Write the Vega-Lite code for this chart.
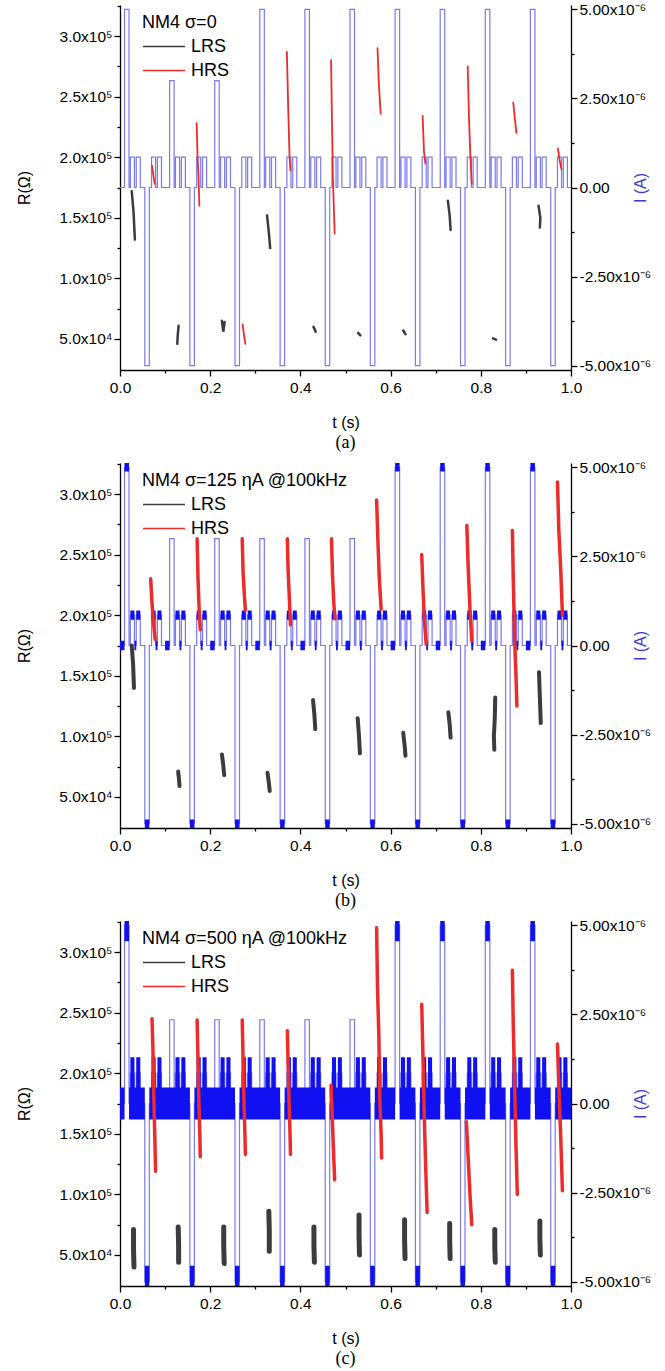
{
"$schema": "https://vega.github.io/schema/vega-lite/v6.json",
"background": "white",
"padding": {"left": 16, "top": 2, "right": 0, "bottom": 0},
"spacing": 8,
"datasets": {
"wave": [
{"t":0,"a":0,"b":0,"c":0,"bl":-1.3e-7,"bh":1.3e-7,"cl":-4.5e-7,"ch":4.5e-7},
{"t":0.01,"a":5e-6,"b":5e-6,"c":5e-6,"bl":4.88e-6,"bh":5.12e-6,"cl":4.55e-6,"ch":5.12e-6},
{"t":0.02,"a":0,"b":0,"c":0,"bl":0,"bh":0,"cl":-4.5e-7,"ch":4.5e-7},
{"t":0.023,"a":8.5e-7,"b":8.5e-7,"c":8.5e-7,"bl":7.2e-7,"bh":9.8e-7,"cl":-4.5e-7,"ch":1.3e-6},
{"t":0.032,"a":0,"b":0,"c":0,"bl":-1.3e-7,"bh":1.3e-7,"cl":-4.5e-7,"ch":4.5e-7},
{"t":0.036,"a":8.5e-7,"b":8.5e-7,"c":8.5e-7,"bl":7.2e-7,"bh":9.8e-7,"cl":-4.5e-7,"ch":1.3e-6},
{"t":0.045,"a":0,"b":0,"c":0,"bl":0,"bh":0,"cl":-4.5e-7,"ch":4.5e-7},
{"t":0.055,"a":-5e-6,"b":-5e-6,"c":-5e-6,"bl":-5.12e-6,"bh":-4.88e-6,"cl":-5.12e-6,"ch":-4.55e-6},
{"t":0.065,"a":0,"b":0,"c":0,"bl":0,"bh":0,"cl":-4.5e-7,"ch":4.5e-7},
{"t":0.07,"a":8.5e-7,"b":8.5e-7,"c":8.5e-7,"bl":7.2e-7,"bh":9.8e-7,"cl":-4.5e-7,"ch":1.3e-6},
{"t":0.079,"a":0,"b":0,"c":0,"bl":-1.3e-7,"bh":1.3e-7,"cl":-4.5e-7,"ch":4.5e-7},
{"t":0.083,"a":8.5e-7,"b":8.5e-7,"c":8.5e-7,"bl":7.2e-7,"bh":9.8e-7,"cl":-4.5e-7,"ch":1.3e-6},
{"t":0.092,"a":0,"b":0,"c":0,"bl":0,"bh":0,"cl":-4.5e-7,"ch":4.5e-7},

{"t":0.1,"a":0,"b":0,"c":0,"bl":-1.3e-7,"bh":1.3e-7,"cl":-4.5e-7,"ch":4.5e-7},
{"t":0.11,"a":3e-6,"b":3e-6,"c":2.35e-6,"bl":0,"bh":0,"cl":-4.5e-7,"ch":4.5e-7},
{"t":0.12,"a":0,"b":0,"c":0,"bl":0,"bh":0,"cl":-4.5e-7,"ch":4.5e-7},
{"t":0.123,"a":8.5e-7,"b":8.5e-7,"c":8.5e-7,"bl":7.2e-7,"bh":9.8e-7,"cl":-4.5e-7,"ch":1.3e-6},
{"t":0.132,"a":0,"b":0,"c":0,"bl":-1.3e-7,"bh":1.3e-7,"cl":-4.5e-7,"ch":4.5e-7},
{"t":0.136,"a":8.5e-7,"b":8.5e-7,"c":8.5e-7,"bl":7.2e-7,"bh":9.8e-7,"cl":-4.5e-7,"ch":1.3e-6},
{"t":0.145,"a":0,"b":0,"c":0,"bl":0,"bh":0,"cl":-4.5e-7,"ch":4.5e-7},
{"t":0.155,"a":-5e-6,"b":-5e-6,"c":-5e-6,"bl":-5.12e-6,"bh":-4.88e-6,"cl":-5.12e-6,"ch":-4.55e-6},
{"t":0.165,"a":0,"b":0,"c":0,"bl":0,"bh":0,"cl":-4.5e-7,"ch":4.5e-7},
{"t":0.17,"a":8.5e-7,"b":8.5e-7,"c":8.5e-7,"bl":7.2e-7,"bh":9.8e-7,"cl":-4.5e-7,"ch":1.3e-6},
{"t":0.179,"a":0,"b":0,"c":0,"bl":-1.3e-7,"bh":1.3e-7,"cl":-4.5e-7,"ch":4.5e-7},
{"t":0.183,"a":8.5e-7,"b":8.5e-7,"c":8.5e-7,"bl":7.2e-7,"bh":9.8e-7,"cl":-4.5e-7,"ch":1.3e-6},
{"t":0.192,"a":0,"b":0,"c":0,"bl":0,"bh":0,"cl":-4.5e-7,"ch":4.5e-7},

{"t":0.2,"a":0,"b":0,"c":0,"bl":-1.3e-7,"bh":1.3e-7,"cl":-4.5e-7,"ch":4.5e-7},
{"t":0.21,"a":3e-6,"b":3e-6,"c":2.35e-6,"bl":0,"bh":0,"cl":-4.5e-7,"ch":4.5e-7},
{"t":0.22,"a":0,"b":0,"c":0,"bl":0,"bh":0,"cl":-4.5e-7,"ch":4.5e-7},
{"t":0.223,"a":8.5e-7,"b":8.5e-7,"c":8.5e-7,"bl":7.2e-7,"bh":9.8e-7,"cl":-4.5e-7,"ch":1.3e-6},
{"t":0.232,"a":0,"b":0,"c":0,"bl":-1.3e-7,"bh":1.3e-7,"cl":-4.5e-7,"ch":4.5e-7},
{"t":0.236,"a":8.5e-7,"b":8.5e-7,"c":8.5e-7,"bl":7.2e-7,"bh":9.8e-7,"cl":-4.5e-7,"ch":1.3e-6},
{"t":0.245,"a":0,"b":0,"c":0,"bl":0,"bh":0,"cl":-4.5e-7,"ch":4.5e-7},
{"t":0.255,"a":-5e-6,"b":-5e-6,"c":-5e-6,"bl":-5.12e-6,"bh":-4.88e-6,"cl":-5.12e-6,"ch":-4.55e-6},
{"t":0.265,"a":0,"b":0,"c":0,"bl":0,"bh":0,"cl":-4.5e-7,"ch":4.5e-7},
{"t":0.27,"a":8.5e-7,"b":8.5e-7,"c":8.5e-7,"bl":7.2e-7,"bh":9.8e-7,"cl":-4.5e-7,"ch":1.3e-6},
{"t":0.279,"a":0,"b":0,"c":0,"bl":-1.3e-7,"bh":1.3e-7,"cl":-4.5e-7,"ch":4.5e-7},
{"t":0.283,"a":8.5e-7,"b":8.5e-7,"c":8.5e-7,"bl":7.2e-7,"bh":9.8e-7,"cl":-4.5e-7,"ch":1.3e-6},
{"t":0.292,"a":0,"b":0,"c":0,"bl":0,"bh":0,"cl":-4.5e-7,"ch":4.5e-7},

{"t":0.3,"a":0,"b":0,"c":0,"bl":-1.3e-7,"bh":1.3e-7,"cl":-4.5e-7,"ch":4.5e-7},
{"t":0.31,"a":5e-6,"b":3e-6,"c":2.35e-6,"bl":0,"bh":0,"cl":-4.5e-7,"ch":4.5e-7},
{"t":0.32,"a":0,"b":0,"c":0,"bl":0,"bh":0,"cl":-4.5e-7,"ch":4.5e-7},
{"t":0.323,"a":8.5e-7,"b":8.5e-7,"c":8.5e-7,"bl":7.2e-7,"bh":9.8e-7,"cl":-4.5e-7,"ch":1.3e-6},
{"t":0.332,"a":0,"b":0,"c":0,"bl":-1.3e-7,"bh":1.3e-7,"cl":-4.5e-7,"ch":4.5e-7},
{"t":0.336,"a":8.5e-7,"b":8.5e-7,"c":8.5e-7,"bl":7.2e-7,"bh":9.8e-7,"cl":-4.5e-7,"ch":1.3e-6},
{"t":0.345,"a":0,"b":0,"c":0,"bl":0,"bh":0,"cl":-4.5e-7,"ch":4.5e-7},
{"t":0.355,"a":-5e-6,"b":-5e-6,"c":-5e-6,"bl":-5.12e-6,"bh":-4.88e-6,"cl":-5.12e-6,"ch":-4.55e-6},
{"t":0.365,"a":0,"b":0,"c":0,"bl":0,"bh":0,"cl":-4.5e-7,"ch":4.5e-7},
{"t":0.37,"a":8.5e-7,"b":8.5e-7,"c":8.5e-7,"bl":7.2e-7,"bh":9.8e-7,"cl":-4.5e-7,"ch":1.3e-6},
{"t":0.379,"a":0,"b":0,"c":0,"bl":-1.3e-7,"bh":1.3e-7,"cl":-4.5e-7,"ch":4.5e-7},
{"t":0.383,"a":8.5e-7,"b":8.5e-7,"c":8.5e-7,"bl":7.2e-7,"bh":9.8e-7,"cl":-4.5e-7,"ch":1.3e-6},
{"t":0.392,"a":0,"b":0,"c":0,"bl":0,"bh":0,"cl":-4.5e-7,"ch":4.5e-7},

{"t":0.4,"a":0,"b":0,"c":0,"bl":-1.3e-7,"bh":1.3e-7,"cl":-4.5e-7,"ch":4.5e-7},
{"t":0.41,"a":5e-6,"b":3e-6,"c":2.35e-6,"bl":0,"bh":0,"cl":-4.5e-7,"ch":4.5e-7},
{"t":0.42,"a":0,"b":0,"c":0,"bl":0,"bh":0,"cl":-4.5e-7,"ch":4.5e-7},
{"t":0.423,"a":8.5e-7,"b":8.5e-7,"c":8.5e-7,"bl":7.2e-7,"bh":9.8e-7,"cl":-4.5e-7,"ch":1.3e-6},
{"t":0.432,"a":0,"b":0,"c":0,"bl":-1.3e-7,"bh":1.3e-7,"cl":-4.5e-7,"ch":4.5e-7},
{"t":0.436,"a":8.5e-7,"b":8.5e-7,"c":8.5e-7,"bl":7.2e-7,"bh":9.8e-7,"cl":-4.5e-7,"ch":1.3e-6},
{"t":0.445,"a":0,"b":0,"c":0,"bl":0,"bh":0,"cl":-4.5e-7,"ch":4.5e-7},
{"t":0.455,"a":-5e-6,"b":-5e-6,"c":-5e-6,"bl":-5.12e-6,"bh":-4.88e-6,"cl":-5.12e-6,"ch":-4.55e-6},
{"t":0.465,"a":0,"b":0,"c":0,"bl":0,"bh":0,"cl":-4.5e-7,"ch":4.5e-7},
{"t":0.47,"a":8.5e-7,"b":8.5e-7,"c":8.5e-7,"bl":7.2e-7,"bh":9.8e-7,"cl":-4.5e-7,"ch":1.3e-6},
{"t":0.479,"a":0,"b":0,"c":0,"bl":-1.3e-7,"bh":1.3e-7,"cl":-4.5e-7,"ch":4.5e-7},
{"t":0.483,"a":8.5e-7,"b":8.5e-7,"c":8.5e-7,"bl":7.2e-7,"bh":9.8e-7,"cl":-4.5e-7,"ch":1.3e-6},
{"t":0.492,"a":0,"b":0,"c":0,"bl":0,"bh":0,"cl":-4.5e-7,"ch":4.5e-7},

{"t":0.5,"a":0,"b":0,"c":0,"bl":-1.3e-7,"bh":1.3e-7,"cl":-4.5e-7,"ch":4.5e-7},
{"t":0.51,"a":5e-6,"b":3e-6,"c":2.35e-6,"bl":0,"bh":0,"cl":-4.5e-7,"ch":4.5e-7},
{"t":0.52,"a":0,"b":0,"c":0,"bl":0,"bh":0,"cl":-4.5e-7,"ch":4.5e-7},
{"t":0.523,"a":8.5e-7,"b":8.5e-7,"c":8.5e-7,"bl":7.2e-7,"bh":9.8e-7,"cl":-4.5e-7,"ch":1.3e-6},
{"t":0.532,"a":0,"b":0,"c":0,"bl":-1.3e-7,"bh":1.3e-7,"cl":-4.5e-7,"ch":4.5e-7},
{"t":0.536,"a":8.5e-7,"b":8.5e-7,"c":8.5e-7,"bl":7.2e-7,"bh":9.8e-7,"cl":-4.5e-7,"ch":1.3e-6},
{"t":0.545,"a":0,"b":0,"c":0,"bl":0,"bh":0,"cl":-4.5e-7,"ch":4.5e-7},
{"t":0.555,"a":-5e-6,"b":-5e-6,"c":-5e-6,"bl":-5.12e-6,"bh":-4.88e-6,"cl":-5.12e-6,"ch":-4.55e-6},
{"t":0.565,"a":0,"b":0,"c":0,"bl":0,"bh":0,"cl":-4.5e-7,"ch":4.5e-7},
{"t":0.57,"a":8.5e-7,"b":8.5e-7,"c":8.5e-7,"bl":7.2e-7,"bh":9.8e-7,"cl":-4.5e-7,"ch":1.3e-6},
{"t":0.579,"a":0,"b":0,"c":0,"bl":-1.3e-7,"bh":1.3e-7,"cl":-4.5e-7,"ch":4.5e-7},
{"t":0.583,"a":8.5e-7,"b":8.5e-7,"c":8.5e-7,"bl":7.2e-7,"bh":9.8e-7,"cl":-4.5e-7,"ch":1.3e-6},
{"t":0.592,"a":0,"b":0,"c":0,"bl":0,"bh":0,"cl":-4.5e-7,"ch":4.5e-7},

{"t":0.6,"a":0,"b":0,"c":0,"bl":-1.3e-7,"bh":1.3e-7,"cl":-4.5e-7,"ch":4.5e-7},
{"t":0.61,"a":5e-6,"b":5e-6,"c":5e-6,"bl":4.88e-6,"bh":5.12e-6,"cl":4.55e-6,"ch":5.12e-6},
{"t":0.62,"a":0,"b":0,"c":0,"bl":0,"bh":0,"cl":-4.5e-7,"ch":4.5e-7},
{"t":0.623,"a":8.5e-7,"b":8.5e-7,"c":8.5e-7,"bl":7.2e-7,"bh":9.8e-7,"cl":-4.5e-7,"ch":1.3e-6},
{"t":0.632,"a":0,"b":0,"c":0,"bl":-1.3e-7,"bh":1.3e-7,"cl":-4.5e-7,"ch":4.5e-7},
{"t":0.636,"a":8.5e-7,"b":8.5e-7,"c":8.5e-7,"bl":7.2e-7,"bh":9.8e-7,"cl":-4.5e-7,"ch":1.3e-6},
{"t":0.645,"a":0,"b":0,"c":0,"bl":0,"bh":0,"cl":-4.5e-7,"ch":4.5e-7},
{"t":0.655,"a":-5e-6,"b":-5e-6,"c":-5e-6,"bl":-5.12e-6,"bh":-4.88e-6,"cl":-5.12e-6,"ch":-4.55e-6},
{"t":0.665,"a":0,"b":0,"c":0,"bl":0,"bh":0,"cl":-4.5e-7,"ch":4.5e-7},
{"t":0.67,"a":8.5e-7,"b":8.5e-7,"c":8.5e-7,"bl":7.2e-7,"bh":9.8e-7,"cl":-4.5e-7,"ch":1.3e-6},
{"t":0.679,"a":0,"b":0,"c":0,"bl":-1.3e-7,"bh":1.3e-7,"cl":-4.5e-7,"ch":4.5e-7},
{"t":0.683,"a":8.5e-7,"b":8.5e-7,"c":8.5e-7,"bl":7.2e-7,"bh":9.8e-7,"cl":-4.5e-7,"ch":1.3e-6},
{"t":0.692,"a":0,"b":0,"c":0,"bl":0,"bh":0,"cl":-4.5e-7,"ch":4.5e-7},

{"t":0.7,"a":0,"b":0,"c":0,"bl":-1.3e-7,"bh":1.3e-7,"cl":-4.5e-7,"ch":4.5e-7},
{"t":0.71,"a":5e-6,"b":5e-6,"c":5e-6,"bl":4.88e-6,"bh":5.12e-6,"cl":4.55e-6,"ch":5.12e-6},
{"t":0.72,"a":0,"b":0,"c":0,"bl":0,"bh":0,"cl":-4.5e-7,"ch":4.5e-7},
{"t":0.723,"a":8.5e-7,"b":8.5e-7,"c":8.5e-7,"bl":7.2e-7,"bh":9.8e-7,"cl":-4.5e-7,"ch":1.3e-6},
{"t":0.732,"a":0,"b":0,"c":0,"bl":-1.3e-7,"bh":1.3e-7,"cl":-4.5e-7,"ch":4.5e-7},
{"t":0.736,"a":8.5e-7,"b":8.5e-7,"c":8.5e-7,"bl":7.2e-7,"bh":9.8e-7,"cl":-4.5e-7,"ch":1.3e-6},
{"t":0.745,"a":0,"b":0,"c":0,"bl":0,"bh":0,"cl":-4.5e-7,"ch":4.5e-7},
{"t":0.755,"a":-5e-6,"b":-5e-6,"c":-5e-6,"bl":-5.12e-6,"bh":-4.88e-6,"cl":-5.12e-6,"ch":-4.55e-6},
{"t":0.765,"a":0,"b":0,"c":0,"bl":0,"bh":0,"cl":-4.5e-7,"ch":4.5e-7},
{"t":0.77,"a":8.5e-7,"b":8.5e-7,"c":8.5e-7,"bl":7.2e-7,"bh":9.8e-7,"cl":-4.5e-7,"ch":1.3e-6},
{"t":0.779,"a":0,"b":0,"c":0,"bl":-1.3e-7,"bh":1.3e-7,"cl":-4.5e-7,"ch":4.5e-7},
{"t":0.783,"a":8.5e-7,"b":8.5e-7,"c":8.5e-7,"bl":7.2e-7,"bh":9.8e-7,"cl":-4.5e-7,"ch":1.3e-6},
{"t":0.792,"a":0,"b":0,"c":0,"bl":0,"bh":0,"cl":-4.5e-7,"ch":4.5e-7},

{"t":0.8,"a":0,"b":0,"c":0,"bl":-1.3e-7,"bh":1.3e-7,"cl":-4.5e-7,"ch":4.5e-7},
{"t":0.81,"a":5e-6,"b":5e-6,"c":5e-6,"bl":4.88e-6,"bh":5.12e-6,"cl":4.55e-6,"ch":5.12e-6},
{"t":0.82,"a":0,"b":0,"c":0,"bl":0,"bh":0,"cl":-4.5e-7,"ch":4.5e-7},
{"t":0.823,"a":8.5e-7,"b":8.5e-7,"c":8.5e-7,"bl":7.2e-7,"bh":9.8e-7,"cl":-4.5e-7,"ch":1.3e-6},
{"t":0.832,"a":0,"b":0,"c":0,"bl":-1.3e-7,"bh":1.3e-7,"cl":-4.5e-7,"ch":4.5e-7},
{"t":0.836,"a":8.5e-7,"b":8.5e-7,"c":8.5e-7,"bl":7.2e-7,"bh":9.8e-7,"cl":-4.5e-7,"ch":1.3e-6},
{"t":0.845,"a":0,"b":0,"c":0,"bl":0,"bh":0,"cl":-4.5e-7,"ch":4.5e-7},
{"t":0.855,"a":-5e-6,"b":-5e-6,"c":-5e-6,"bl":-5.12e-6,"bh":-4.88e-6,"cl":-5.12e-6,"ch":-4.55e-6},
{"t":0.865,"a":0,"b":0,"c":0,"bl":0,"bh":0,"cl":-4.5e-7,"ch":4.5e-7},
{"t":0.87,"a":8.5e-7,"b":8.5e-7,"c":8.5e-7,"bl":7.2e-7,"bh":9.8e-7,"cl":-4.5e-7,"ch":1.3e-6},
{"t":0.879,"a":0,"b":0,"c":0,"bl":-1.3e-7,"bh":1.3e-7,"cl":-4.5e-7,"ch":4.5e-7},
{"t":0.883,"a":8.5e-7,"b":8.5e-7,"c":8.5e-7,"bl":7.2e-7,"bh":9.8e-7,"cl":-4.5e-7,"ch":1.3e-6},
{"t":0.892,"a":0,"b":0,"c":0,"bl":0,"bh":0,"cl":-4.5e-7,"ch":4.5e-7},

{"t":0.9,"a":0,"b":0,"c":0,"bl":-1.3e-7,"bh":1.3e-7,"cl":-4.5e-7,"ch":4.5e-7},
{"t":0.91,"a":5e-6,"b":5e-6,"c":5e-6,"bl":4.88e-6,"bh":5.12e-6,"cl":4.55e-6,"ch":5.12e-6},
{"t":0.92,"a":0,"b":0,"c":0,"bl":0,"bh":0,"cl":-4.5e-7,"ch":4.5e-7},
{"t":0.923,"a":8.5e-7,"b":8.5e-7,"c":8.5e-7,"bl":7.2e-7,"bh":9.8e-7,"cl":-4.5e-7,"ch":1.3e-6},
{"t":0.932,"a":0,"b":0,"c":0,"bl":-1.3e-7,"bh":1.3e-7,"cl":-4.5e-7,"ch":4.5e-7},
{"t":0.936,"a":8.5e-7,"b":8.5e-7,"c":8.5e-7,"bl":7.2e-7,"bh":9.8e-7,"cl":-4.5e-7,"ch":1.3e-6},
{"t":0.945,"a":0,"b":0,"c":0,"bl":0,"bh":0,"cl":-4.5e-7,"ch":4.5e-7},
{"t":0.955,"a":-5e-6,"b":-5e-6,"c":-5e-6,"bl":-5.12e-6,"bh":-4.88e-6,"cl":-5.12e-6,"ch":-4.55e-6},
{"t":0.965,"a":0,"b":0,"c":0,"bl":0,"bh":0,"cl":-4.5e-7,"ch":4.5e-7},
{"t":0.97,"a":8.5e-7,"b":8.5e-7,"c":8.5e-7,"bl":7.2e-7,"bh":9.8e-7,"cl":-4.5e-7,"ch":1.3e-6},
{"t":0.979,"a":0,"b":0,"c":0,"bl":-1.3e-7,"bh":1.3e-7,"cl":-4.5e-7,"ch":4.5e-7},
{"t":0.983,"a":8.5e-7,"b":8.5e-7,"c":8.5e-7,"bl":7.2e-7,"bh":9.8e-7,"cl":-4.5e-7,"ch":1.3e-6},
{"t":0.992,"a":0,"b":0,"c":0,"bl":0,"bh":0,"cl":-4.5e-7,"ch":4.5e-7},
{"t":1.0,"a":0,"b":0,"c":0,"bl":0,"bh":0,"cl":-4.5e-7,"ch":4.5e-7}
],
"streaks": [
{"p":"a","id":"a1","state":"LRS","t":0.026,"R":172000},{"p":"a","id":"a1","state":"LRS","t":0.030,"R":155000},{"p":"a","id":"a1","state":"LRS","t":0.033,"R":132000},
{"p":"a","id":"a2","state":"LRS","t":0.130,"R":61000},{"p":"a","id":"a2","state":"LRS","t":0.128,"R":53000},{"p":"a","id":"a2","state":"LRS","t":0.127,"R":46000},
{"p":"a","id":"a3","state":"LRS","t":0.226,"R":65000},{"p":"a","id":"a3","state":"LRS","t":0.229,"R":56000},{"p":"a","id":"a3","state":"LRS","t":0.232,"R":64000},
{"p":"a","id":"a4","state":"LRS","t":0.326,"R":152000},{"p":"a","id":"a4","state":"LRS","t":0.330,"R":138000},{"p":"a","id":"a4","state":"LRS","t":0.333,"R":125000},
{"p":"a","id":"a5","state":"LRS","t":0.429,"R":60000},{"p":"a","id":"a5","state":"LRS","t":0.434,"R":56000},
{"p":"a","id":"a6","state":"LRS","t":0.528,"R":55000},{"p":"a","id":"a6","state":"LRS","t":0.533,"R":53000},
{"p":"a","id":"a7","state":"LRS","t":0.628,"R":57000},{"p":"a","id":"a7","state":"LRS","t":0.633,"R":54000},
{"p":"a","id":"a8","state":"LRS","t":0.727,"R":164000},{"p":"a","id":"a8","state":"LRS","t":0.731,"R":152000},{"p":"a","id":"a8","state":"LRS","t":0.733,"R":140000},
{"p":"a","id":"a9","state":"LRS","t":0.827,"R":50500},{"p":"a","id":"a9","state":"LRS","t":0.834,"R":49500},
{"p":"a","id":"a10","state":"LRS","t":0.928,"R":160000},{"p":"a","id":"a10","state":"LRS","t":0.932,"R":150000},{"p":"a","id":"a10","state":"LRS","t":0.931,"R":142000},
{"p":"a","id":"a11","state":"HRS","t":0.071,"R":193000},{"p":"a","id":"a11","state":"HRS","t":0.074,"R":185000},{"p":"a","id":"a11","state":"HRS","t":0.077,"R":178000},
{"p":"a","id":"a12","state":"HRS","t":0.170,"R":228000},{"p":"a","id":"a12","state":"HRS","t":0.172,"R":200000},{"p":"a","id":"a12","state":"HRS","t":0.174,"R":185000},{"p":"a","id":"a12","state":"HRS","t":0.176,"R":160000},
{"p":"a","id":"a13","state":"HRS","t":0.272,"R":62000},{"p":"a","id":"a13","state":"HRS","t":0.275,"R":53000},{"p":"a","id":"a13","state":"HRS","t":0.278,"R":46000},
{"p":"a","id":"a14","state":"HRS","t":0.370,"R":287000},{"p":"a","id":"a14","state":"HRS","t":0.373,"R":240000},{"p":"a","id":"a14","state":"HRS","t":0.376,"R":200000},{"p":"a","id":"a14","state":"HRS","t":0.378,"R":189000},
{"p":"a","id":"a15","state":"HRS","t":0.468,"R":280000},{"p":"a","id":"a15","state":"HRS","t":0.470,"R":230000},{"p":"a","id":"a15","state":"HRS","t":0.472,"R":185000},{"p":"a","id":"a15","state":"HRS","t":0.474,"R":160000},{"p":"a","id":"a15","state":"HRS","t":0.476,"R":137000},
{"p":"a","id":"a16","state":"HRS","t":0.571,"R":290000},{"p":"a","id":"a16","state":"HRS","t":0.574,"R":260000},{"p":"a","id":"a16","state":"HRS","t":0.578,"R":236000},
{"p":"a","id":"a17","state":"HRS","t":0.671,"R":234000},{"p":"a","id":"a17","state":"HRS","t":0.674,"R":205000},{"p":"a","id":"a17","state":"HRS","t":0.677,"R":195000},
{"p":"a","id":"a18","state":"HRS","t":0.771,"R":275000},{"p":"a","id":"a18","state":"HRS","t":0.774,"R":230000},{"p":"a","id":"a18","state":"HRS","t":0.777,"R":200000},{"p":"a","id":"a18","state":"HRS","t":0.780,"R":178000},
{"p":"a","id":"a19","state":"HRS","t":0.872,"R":245000},{"p":"a","id":"a19","state":"HRS","t":0.876,"R":230000},{"p":"a","id":"a19","state":"HRS","t":0.879,"R":220000},
{"p":"a","id":"a20","state":"HRS","t":0.971,"R":207000},{"p":"a","id":"a20","state":"HRS","t":0.975,"R":197000},{"p":"a","id":"a20","state":"HRS","t":0.979,"R":190000},

{"p":"b","id":"b1","state":"LRS","t":0.026,"R":175000},{"p":"b","id":"b1","state":"LRS","t":0.029,"R":160000},{"p":"b","id":"b1","state":"LRS","t":0.031,"R":140000},
{"p":"b","id":"b2","state":"LRS","t":0.129,"R":71000},{"p":"b","id":"b2","state":"LRS","t":0.131,"R":64000},{"p":"b","id":"b2","state":"LRS","t":0.132,"R":59000},
{"p":"b","id":"b3","state":"LRS","t":0.226,"R":85000},{"p":"b","id":"b3","state":"LRS","t":0.229,"R":76000},{"p":"b","id":"b3","state":"LRS","t":0.231,"R":68000},
{"p":"b","id":"b4","state":"LRS","t":0.327,"R":70000},{"p":"b","id":"b4","state":"LRS","t":0.330,"R":62000},{"p":"b","id":"b4","state":"LRS","t":0.332,"R":55000},
{"p":"b","id":"b5","state":"LRS","t":0.428,"R":130000},{"p":"b","id":"b5","state":"LRS","t":0.431,"R":118000},{"p":"b","id":"b5","state":"LRS","t":0.433,"R":106000},
{"p":"b","id":"b6","state":"LRS","t":0.527,"R":115000},{"p":"b","id":"b6","state":"LRS","t":0.530,"R":100000},{"p":"b","id":"b6","state":"LRS","t":0.532,"R":86000},
{"p":"b","id":"b7","state":"LRS","t":0.628,"R":103000},{"p":"b","id":"b7","state":"LRS","t":0.631,"R":93000},{"p":"b","id":"b7","state":"LRS","t":0.633,"R":84000},
{"p":"b","id":"b8","state":"LRS","t":0.728,"R":120000},{"p":"b","id":"b8","state":"LRS","t":0.731,"R":110000},{"p":"b","id":"b8","state":"LRS","t":0.733,"R":99000},
{"p":"b","id":"b9","state":"LRS","t":0.832,"R":132000},{"p":"b","id":"b9","state":"LRS","t":0.831,"R":115000},{"p":"b","id":"b9","state":"LRS","t":0.829,"R":100000},{"p":"b","id":"b9","state":"LRS","t":0.830,"R":89000},
{"p":"b","id":"b10","state":"LRS","t":0.929,"R":153000},{"p":"b","id":"b10","state":"LRS","t":0.931,"R":132000},{"p":"b","id":"b10","state":"LRS","t":0.933,"R":111000},
{"p":"b","id":"b11","state":"HRS","t":0.068,"R":230000},{"p":"b","id":"b11","state":"HRS","t":0.071,"R":210000},{"p":"b","id":"b11","state":"HRS","t":0.074,"R":195000},{"p":"b","id":"b11","state":"HRS","t":0.078,"R":180000},
{"p":"b","id":"b12","state":"HRS","t":0.171,"R":263000},{"p":"b","id":"b12","state":"HRS","t":0.173,"R":230000},{"p":"b","id":"b12","state":"HRS","t":0.176,"R":200000},{"p":"b","id":"b12","state":"HRS","t":0.178,"R":188000},
{"p":"b","id":"b13","state":"HRS","t":0.271,"R":263000},{"p":"b","id":"b13","state":"HRS","t":0.273,"R":235000},{"p":"b","id":"b13","state":"HRS","t":0.276,"R":215000},{"p":"b","id":"b13","state":"HRS","t":0.278,"R":204000},
{"p":"b","id":"b14","state":"HRS","t":0.371,"R":263000},{"p":"b","id":"b14","state":"HRS","t":0.373,"R":235000},{"p":"b","id":"b14","state":"HRS","t":0.376,"R":210000},{"p":"b","id":"b14","state":"HRS","t":0.378,"R":192000},
{"p":"b","id":"b15","state":"HRS","t":0.469,"R":263000},{"p":"b","id":"b15","state":"HRS","t":0.471,"R":235000},{"p":"b","id":"b15","state":"HRS","t":0.474,"R":210000},{"p":"b","id":"b15","state":"HRS","t":0.477,"R":197000},
{"p":"b","id":"b16","state":"HRS","t":0.569,"R":295000},{"p":"b","id":"b16","state":"HRS","t":0.572,"R":260000},{"p":"b","id":"b16","state":"HRS","t":0.575,"R":230000},{"p":"b","id":"b16","state":"HRS","t":0.579,"R":205000},
{"p":"b","id":"b17","state":"HRS","t":0.669,"R":250000},{"p":"b","id":"b17","state":"HRS","t":0.672,"R":220000},{"p":"b","id":"b17","state":"HRS","t":0.675,"R":195000},{"p":"b","id":"b17","state":"HRS","t":0.679,"R":176000},
{"p":"b","id":"b18","state":"HRS","t":0.769,"R":274000},{"p":"b","id":"b18","state":"HRS","t":0.772,"R":240000},{"p":"b","id":"b18","state":"HRS","t":0.776,"R":205000},{"p":"b","id":"b18","state":"HRS","t":0.780,"R":179000},
{"p":"b","id":"b19","state":"HRS","t":0.870,"R":270000},{"p":"b","id":"b19","state":"HRS","t":0.872,"R":230000},{"p":"b","id":"b19","state":"HRS","t":0.875,"R":180000},{"p":"b","id":"b19","state":"HRS","t":0.878,"R":150000},{"p":"b","id":"b19","state":"HRS","t":0.880,"R":125000},
{"p":"b","id":"b20","state":"HRS","t":0.970,"R":310000},{"p":"b","id":"b20","state":"HRS","t":0.973,"R":270000},{"p":"b","id":"b20","state":"HRS","t":0.977,"R":240000},{"p":"b","id":"b20","state":"HRS","t":0.981,"R":200000},

{"p":"c","id":"c1","state":"LRS","t":0.030,"R":71000},{"p":"c","id":"c1","state":"LRS","t":0.030,"R":55000},{"p":"c","id":"c1","state":"LRS","t":0.031,"R":40000},
{"p":"c","id":"c2","state":"LRS","t":0.129,"R":73000},{"p":"c","id":"c2","state":"LRS","t":0.130,"R":58000},{"p":"c","id":"c2","state":"LRS","t":0.130,"R":44000},
{"p":"c","id":"c3","state":"LRS","t":0.230,"R":73000},{"p":"c","id":"c3","state":"LRS","t":0.230,"R":58000},{"p":"c","id":"c3","state":"LRS","t":0.231,"R":43000},
{"p":"c","id":"c4","state":"LRS","t":0.330,"R":86000},{"p":"c","id":"c4","state":"LRS","t":0.331,"R":70000},{"p":"c","id":"c4","state":"LRS","t":0.331,"R":53000},
{"p":"c","id":"c5","state":"LRS","t":0.430,"R":73000},{"p":"c","id":"c5","state":"LRS","t":0.430,"R":58000},{"p":"c","id":"c5","state":"LRS","t":0.431,"R":44000},
{"p":"c","id":"c6","state":"LRS","t":0.530,"R":83000},{"p":"c","id":"c6","state":"LRS","t":0.530,"R":66000},{"p":"c","id":"c6","state":"LRS","t":0.531,"R":50000},
{"p":"c","id":"c7","state":"LRS","t":0.631,"R":79000},{"p":"c","id":"c7","state":"LRS","t":0.631,"R":63000},{"p":"c","id":"c7","state":"LRS","t":0.632,"R":47000},
{"p":"c","id":"c8","state":"LRS","t":0.731,"R":76000},{"p":"c","id":"c8","state":"LRS","t":0.731,"R":62000},{"p":"c","id":"c8","state":"LRS","t":0.732,"R":47000},
{"p":"c","id":"c9","state":"LRS","t":0.831,"R":71000},{"p":"c","id":"c9","state":"LRS","t":0.831,"R":58000},{"p":"c","id":"c9","state":"LRS","t":0.832,"R":44000},
{"p":"c","id":"c10","state":"LRS","t":0.931,"R":78000},{"p":"c","id":"c10","state":"LRS","t":0.931,"R":64000},{"p":"c","id":"c10","state":"LRS","t":0.932,"R":50000},
{"p":"c","id":"c11","state":"HRS","t":0.071,"R":245000},{"p":"c","id":"c11","state":"HRS","t":0.073,"R":220000},{"p":"c","id":"c11","state":"HRS","t":0.075,"R":180000},{"p":"c","id":"c11","state":"HRS","t":0.077,"R":150000},{"p":"c","id":"c11","state":"HRS","t":0.079,"R":119000},
{"p":"c","id":"c12","state":"HRS","t":0.171,"R":244000},{"p":"c","id":"c12","state":"HRS","t":0.173,"R":210000},{"p":"c","id":"c12","state":"HRS","t":0.175,"R":175000},{"p":"c","id":"c12","state":"HRS","t":0.177,"R":150000},{"p":"c","id":"c12","state":"HRS","t":0.178,"R":131000},
{"p":"c","id":"c13","state":"HRS","t":0.271,"R":244000},{"p":"c","id":"c13","state":"HRS","t":0.273,"R":210000},{"p":"c","id":"c13","state":"HRS","t":0.275,"R":175000},{"p":"c","id":"c13","state":"HRS","t":0.277,"R":150000},{"p":"c","id":"c13","state":"HRS","t":0.278,"R":133000},
{"p":"c","id":"c14","state":"HRS","t":0.371,"R":235000},{"p":"c","id":"c14","state":"HRS","t":0.373,"R":205000},{"p":"c","id":"c14","state":"HRS","t":0.375,"R":175000},{"p":"c","id":"c14","state":"HRS","t":0.377,"R":150000},{"p":"c","id":"c14","state":"HRS","t":0.378,"R":133000},
{"p":"c","id":"c15","state":"HRS","t":0.468,"R":190000},{"p":"c","id":"c15","state":"HRS","t":0.471,"R":160000},{"p":"c","id":"c15","state":"HRS","t":0.474,"R":130000},{"p":"c","id":"c15","state":"HRS","t":0.476,"R":112000},
{"p":"c","id":"c16","state":"HRS","t":0.569,"R":320000},{"p":"c","id":"c16","state":"HRS","t":0.571,"R":270000},{"p":"c","id":"c16","state":"HRS","t":0.574,"R":230000},{"p":"c","id":"c16","state":"HRS","t":0.576,"R":180000},{"p":"c","id":"c16","state":"HRS","t":0.579,"R":150000},{"p":"c","id":"c16","state":"HRS","t":0.580,"R":130000},
{"p":"c","id":"c17","state":"HRS","t":0.669,"R":257000},{"p":"c","id":"c17","state":"HRS","t":0.672,"R":210000},{"p":"c","id":"c17","state":"HRS","t":0.675,"R":160000},{"p":"c","id":"c17","state":"HRS","t":0.678,"R":120000},{"p":"c","id":"c17","state":"HRS","t":0.681,"R":85000},
{"p":"c","id":"c18","state":"HRS","t":0.768,"R":160000},{"p":"c","id":"c18","state":"HRS","t":0.772,"R":130000},{"p":"c","id":"c18","state":"HRS","t":0.776,"R":100000},{"p":"c","id":"c18","state":"HRS","t":0.780,"R":75000},
{"p":"c","id":"c19","state":"HRS","t":0.870,"R":285000},{"p":"c","id":"c19","state":"HRS","t":0.872,"R":240000},{"p":"c","id":"c19","state":"HRS","t":0.875,"R":190000},{"p":"c","id":"c19","state":"HRS","t":0.878,"R":140000},{"p":"c","id":"c19","state":"HRS","t":0.881,"R":100000},
{"p":"c","id":"c20","state":"HRS","t":0.970,"R":224000},{"p":"c","id":"c20","state":"HRS","t":0.973,"R":190000},{"p":"c","id":"c20","state":"HRS","t":0.977,"R":150000},{"p":"c","id":"c20","state":"HRS","t":0.981,"R":103000}
]
},
"vconcat": [
{
"width": 451, "height": 365,
"title": {"text": "(a)", "orient": "bottom", "offset": 3},
"encoding": {"x": {"field": "t", "type": "quantitative", "scale": {"domain": [0, 1]}, "axis": {"title": "t (s)", "values": [0,0.1,0.2,0.3,0.4,0.5,0.6,0.7,0.8,0.9,1.0], "labelExpr": "round(datum.value*10) % 2 == 0 ? format(datum.value, '.1f') : ''", "tickSize": {"condition": {"test": "round(datum.value*10) % 2 == 0", "value": 6}, "value": 3}, "labelFlush": false, "labelPadding": 4, "titlePadding": 19}}},
"layer": [
{"data": {"name": "wave"},
 "encoding": {"y": {"field": "a", "type": "quantitative", "scale": {"domain": [-5.12e-6, 5.12e-6]}, "axis": {"orient": "right", "title": "I (A)", "titleColor": "#3a3ad8", "titleAngle": 270, "titleX": 69, "titleY": 182.5, "titleBaseline": "middle", "titleAlign": "center", "values": [-5e-6,-3.75e-6,-2.5e-6,-1.25e-6,0,1.25e-6,2.5e-6,3.75e-6,5e-6], "labelExpr": "round(datum.value*1e7) % 25 == 0 ? (datum.value == 0 ? '0.00' : (datum.value < 0 ? '-' : '') + format(abs(datum.value)*1e6, '.2f') + 'x10⁻⁶') : ''", "tickSize": {"condition": {"test": "round(datum.value*1e7) % 25 == 0", "value": 6}, "value": 3}}}},
 "layer": [
  {"mark": {"type": "line", "interpolate": "step-after", "color": "#7a7aee", "strokeWidth": 1.2, "clip": true}}
 ]
},
{"data": {"name": "streaks"},
 "transform": [{"filter": "datum.p == 'a'"}],
 "encoding": {
  "y": {"field": "R", "type": "quantitative", "scale": {"domain": [24400, 325600]}, "axis": {"orient": "left", "title": "R(Ω)", "titleAngle": 270, "titleX": -96, "titleY": 182.5, "titleBaseline": "middle", "titleAlign": "center", "values": [50000,75000,100000,125000,150000,175000,200000,225000,250000,275000,300000,325000], "labelExpr": "datum.value % 50000 == 0 ? (datum.value < 100000 ? format(datum.value/10000, '.1f') + 'x10⁴' : format(datum.value/100000, '.1f') + 'x10⁵') : ''", "tickSize": {"condition": {"test": "datum.value % 50000 == 0", "value": 6}, "value": 3}}},
  "detail": {"field": "id"},
  "order": {"value": null},
  "color": {"field": "state", "type": "nominal", "scale": {"domain": ["LRS", "HRS"], "range": ["#3c3c3c", "#ec2b2b"]}, "legend": {"title": "NM4 σ=0", "orient": "none", "legendX": 22, "legendY": 9, "symbolType": "M-1,0H3", "symbolSize": 441, "symbolStrokeWidth": 1.5, "labelFontSize": 18, "titleFontSize": 18, "titleFontWeight": "normal", "titleLimit": 420, "titlePadding": 3, "rowPadding": 3, "labelOffset": 26, "labelColor": "#000", "titleColor": "#000"}}
 },
 "layer": [
  {"transform": [{"filter": "datum.state == 'LRS'"}], "mark": {"type": "line", "strokeWidth": 2.5, "strokeCap": "round", "clip": true}},
  {"transform": [{"filter": "datum.state == 'HRS'"}], "mark": {"type": "line", "strokeWidth": 1.8, "strokeCap": "round", "clip": true}}
 ]
}
],
"resolve": {"scale": {"y": "independent"}}
},
{
"width": 451, "height": 365,
"title": {"text": "(b)", "orient": "bottom", "offset": 3},
"encoding": {"x": {"field": "t", "type": "quantitative", "scale": {"domain": [0, 1]}, "axis": {"title": "t (s)", "values": [0,0.1,0.2,0.3,0.4,0.5,0.6,0.7,0.8,0.9,1.0], "labelExpr": "round(datum.value*10) % 2 == 0 ? format(datum.value, '.1f') : ''", "tickSize": {"condition": {"test": "round(datum.value*10) % 2 == 0", "value": 6}, "value": 3}, "labelFlush": false, "labelPadding": 4, "titlePadding": 19}}},
"layer": [
{"data": {"name": "wave"},
 "encoding": {"y": {"field": "b", "type": "quantitative", "scale": {"domain": [-5.12e-6, 5.12e-6]}, "axis": {"orient": "right", "title": "I (A)", "titleColor": "#3a3ad8", "titleAngle": 270, "titleX": 69, "titleY": 182.5, "titleBaseline": "middle", "titleAlign": "center", "values": [-5e-6,-3.75e-6,-2.5e-6,-1.25e-6,0,1.25e-6,2.5e-6,3.75e-6,5e-6], "labelExpr": "round(datum.value*1e7) % 25 == 0 ? (datum.value == 0 ? '0.00' : (datum.value < 0 ? '-' : '') + format(abs(datum.value)*1e6, '.2f') + 'x10⁻⁶') : ''", "tickSize": {"condition": {"test": "round(datum.value*1e7) % 25 == 0", "value": 6}, "value": 3}}}},
 "layer": [
  {"mark": {"type": "line", "interpolate": "step-after", "color": "#7a7aee", "strokeWidth": 1.2, "clip": true}},
  {"mark": {"type": "area", "interpolate": "step-after", "color": "#1010f0", "opacity": 1, "clip": true}, "encoding": {"y": {"field": "bl", "type": "quantitative"}, "y2": {"field": "bh"}}}
 ]
},
{"data": {"name": "streaks"},
 "transform": [{"filter": "datum.p == 'b'"}],
 "encoding": {
  "y": {"field": "R", "type": "quantitative", "scale": {"domain": [24400, 325600]}, "axis": {"orient": "left", "title": "R(Ω)", "titleAngle": 270, "titleX": -96, "titleY": 182.5, "titleBaseline": "middle", "titleAlign": "center", "values": [50000,75000,100000,125000,150000,175000,200000,225000,250000,275000,300000,325000], "labelExpr": "datum.value % 50000 == 0 ? (datum.value < 100000 ? format(datum.value/10000, '.1f') + 'x10⁴' : format(datum.value/100000, '.1f') + 'x10⁵') : ''", "tickSize": {"condition": {"test": "datum.value % 50000 == 0", "value": 6}, "value": 3}}},
  "detail": {"field": "id"},
  "order": {"value": null},
  "color": {"field": "state", "type": "nominal", "scale": {"domain": ["LRS", "HRS"], "range": ["#3c3c3c", "#ec2b2b"]}, "legend": {"title": "NM4 σ=125 ηA @100kHz", "orient": "none", "legendX": 22, "legendY": 9, "symbolType": "M-1,0H3", "symbolSize": 441, "symbolStrokeWidth": 1.5, "labelFontSize": 18, "titleFontSize": 18, "titleFontWeight": "normal", "titleLimit": 420, "titlePadding": 3, "rowPadding": 3, "labelOffset": 26, "labelColor": "#000", "titleColor": "#000"}}
 },
 "layer": [
  {"transform": [{"filter": "datum.state == 'LRS'"}], "mark": {"type": "line", "strokeWidth": 4, "strokeCap": "round", "clip": true}},
  {"transform": [{"filter": "datum.state == 'HRS'"}], "mark": {"type": "line", "strokeWidth": 3.5, "strokeCap": "round", "clip": true}}
 ]
}
],
"resolve": {"scale": {"y": "independent"}}
},
{
"width": 451, "height": 365,
"title": {"text": "(c)", "orient": "bottom", "offset": 3},
"encoding": {"x": {"field": "t", "type": "quantitative", "scale": {"domain": [0, 1]}, "axis": {"title": "t (s)", "values": [0,0.1,0.2,0.3,0.4,0.5,0.6,0.7,0.8,0.9,1.0], "labelExpr": "round(datum.value*10) % 2 == 0 ? format(datum.value, '.1f') : ''", "tickSize": {"condition": {"test": "round(datum.value*10) % 2 == 0", "value": 6}, "value": 3}, "labelFlush": false, "labelPadding": 4, "titlePadding": 19}}},
"layer": [
{"data": {"name": "wave"},
 "encoding": {"y": {"field": "c", "type": "quantitative", "scale": {"domain": [-5.12e-6, 5.12e-6]}, "axis": {"orient": "right", "title": "I (A)", "titleColor": "#3a3ad8", "titleAngle": 270, "titleX": 69, "titleY": 182.5, "titleBaseline": "middle", "titleAlign": "center", "values": [-5e-6,-3.75e-6,-2.5e-6,-1.25e-6,0,1.25e-6,2.5e-6,3.75e-6,5e-6], "labelExpr": "round(datum.value*1e7) % 25 == 0 ? (datum.value == 0 ? '0.00' : (datum.value < 0 ? '-' : '') + format(abs(datum.value)*1e6, '.2f') + 'x10⁻⁶') : ''", "tickSize": {"condition": {"test": "round(datum.value*1e7) % 25 == 0", "value": 6}, "value": 3}}}},
 "layer": [
  {"mark": {"type": "line", "interpolate": "step-after", "color": "#7a7aee", "strokeWidth": 1.2, "clip": true}},
  {"mark": {"type": "area", "interpolate": "step-after", "color": "#1010f0", "opacity": 1, "clip": true}, "encoding": {"y": {"field": "cl", "type": "quantitative"}, "y2": {"field": "ch"}}}
 ]
},
{"data": {"name": "streaks"},
 "transform": [{"filter": "datum.p == 'c'"}],
 "encoding": {
  "y": {"field": "R", "type": "quantitative", "scale": {"domain": [24400, 325600]}, "axis": {"orient": "left", "title": "R(Ω)", "titleAngle": 270, "titleX": -96, "titleY": 182.5, "titleBaseline": "middle", "titleAlign": "center", "values": [50000,75000,100000,125000,150000,175000,200000,225000,250000,275000,300000,325000], "labelExpr": "datum.value % 50000 == 0 ? (datum.value < 100000 ? format(datum.value/10000, '.1f') + 'x10⁴' : format(datum.value/100000, '.1f') + 'x10⁵') : ''", "tickSize": {"condition": {"test": "datum.value % 50000 == 0", "value": 6}, "value": 3}}},
  "detail": {"field": "id"},
  "order": {"value": null},
  "color": {"field": "state", "type": "nominal", "scale": {"domain": ["LRS", "HRS"], "range": ["#3c3c3c", "#ec2b2b"]}, "legend": {"title": "NM4 σ=500 ηA @100kHz", "orient": "none", "legendX": 22, "legendY": 9, "symbolType": "M-1,0H3", "symbolSize": 441, "symbolStrokeWidth": 1.5, "labelFontSize": 18, "titleFontSize": 18, "titleFontWeight": "normal", "titleLimit": 420, "titlePadding": 3, "rowPadding": 3, "labelOffset": 26, "labelColor": "#000", "titleColor": "#000"}}
 },
 "layer": [
  {"transform": [{"filter": "datum.state == 'LRS'"}], "mark": {"type": "line", "strokeWidth": 5, "strokeCap": "round", "clip": true}},
  {"transform": [{"filter": "datum.state == 'HRS'"}], "mark": {"type": "line", "strokeWidth": 3.5, "strokeCap": "round", "clip": true}}
 ]
}
],
"resolve": {"scale": {"y": "independent"}}
}
],
"resolve": {"scale": {"color": "independent", "x": "independent", "y": "independent"}, "legend": {"color": "independent"}},
"config": {
 "font": "Liberation Sans",
 "view": {"stroke": null},
 "axis": {"grid": false, "domainColor": "#000", "domainWidth": 1.3, "tickColor": "#000", "tickWidth": 1.3, "labelColor": "#000", "titleColor": "#000", "labelFont": "Liberation Sans", "titleFont": "Liberation Sans", "labelFontSize": 15.5, "titleFontSize": 16, "titleFontWeight": "normal", "labelPadding": 2},
 "legend": {"labelFont": "Liberation Sans", "titleFont": "Liberation Sans"},
 "title": {"font": "Liberation Serif", "fontSize": 18, "fontWeight": "normal", "color": "#000"}
}
}
